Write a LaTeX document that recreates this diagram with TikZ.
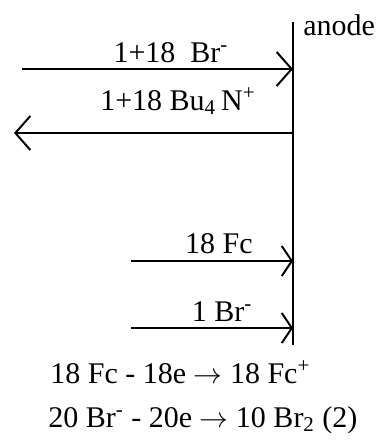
\documentclass[tikz,border=0pt]{standalone}
\usepackage{fontspec}
\setmainfont{Liberation Serif}
\usetikzlibrary{arrows.meta, positioning}

\begin{document}
\begin{tikzpicture}[
    x=0.5pt, y=-0.5pt,
    font=\fontsize{15}{18}\selectfont,
    flow/.style={-{Straight Barb[length=7.5pt, width=17pt, line width=1pt]}, line width=1pt},
    short/.style={-{Straight Barb[length=5pt, width=15pt, line width=1pt]}, line width=1pt},
    lbl/.style={anchor=base, inner sep=0pt},
    eqn/.style={anchor=base west, inner sep=0pt},
]
\useasboundingbox (0,0) rectangle (387,441);

% electrode
\coordinate (top) at (293,22);
\coordinate (bot) at (293,345);
\draw[line width=1pt] (top) -- (bot);
\node[eqn] (anode) at (303,35) {anode};

% ion and neutral flows
\coordinate (brin) at (22,69);   \coordinate (brend) at (293,69);
\coordinate (buin) at (293,133); \coordinate (buend) at (14,133);
\coordinate (fcin) at (131,261); \coordinate (fcend) at (293,261);
\coordinate (brtin) at (131,328); \coordinate (brtend) at (293,328);

\draw[flow] (brin) -- (brend);
\draw[flow] (buin) -- (buend);
\draw[short] (fcin) -- (fcend);
\draw[short] (brtin) -- (brtend);

\node[lbl] (brlbl) at (171,62) {1+18\ \ Br\textsuperscript{-}};
\node[lbl] (bulbl) at (178,110) {1+18\ Bu\textsubscript{4}\,N\textsuperscript{+}};
\node[lbl] (fclbl) at (219,253) {18 Fc};
\node[lbl] (brtlbl) at (222,321) {1 Br\textsuperscript{-}};

% electrode reactions
\node[eqn] (reac1) at (50,383) {18 Fc - 18e $\rightarrow$ 18 Fc\textsuperscript{+}};
\node[eqn] (reac2) at (48,427) {20 Br\textsuperscript{-} - 20e $\rightarrow$ 10 Br\textsubscript{2} (2)};
\end{tikzpicture}
\end{document}
